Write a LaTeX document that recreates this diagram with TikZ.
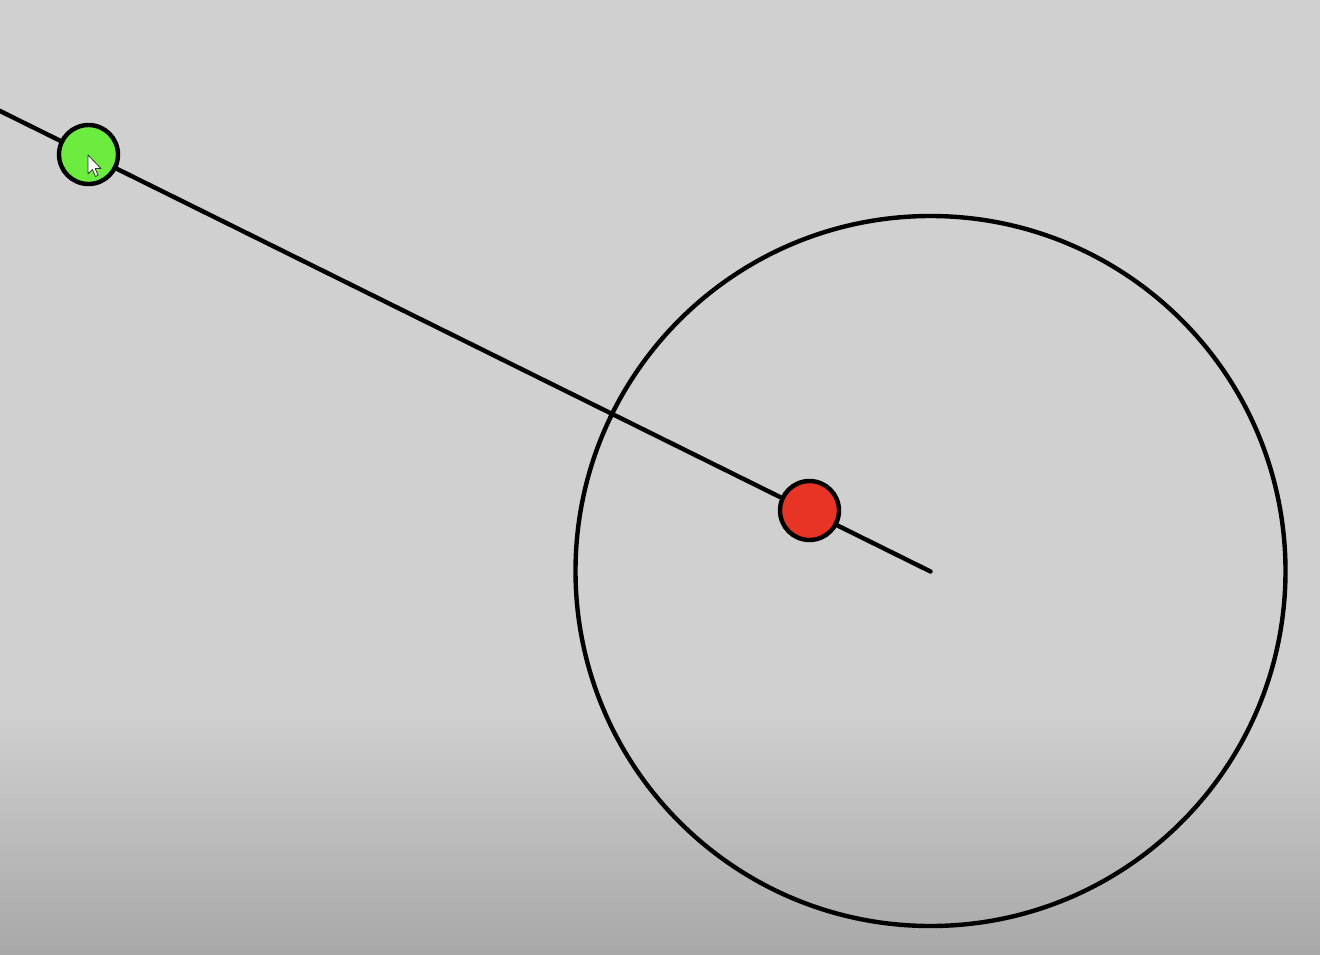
\documentclass[tikz,border=0pt]{standalone}
\definecolor{bgtop}{RGB}{208,208,208}
\definecolor{bgbot}{RGB}{168,168,168}
\definecolor{ballgreen}{RGB}{108,236,62}
\definecolor{ballred}{RGB}{232,52,36}
\tikzset{
  stroke/.style={draw=black, line width=4.4pt},
  ball/.style={stroke, circle, inner sep=0pt, outer sep=0pt, minimum size=59pt},
  bigring/.style={stroke, circle, inner sep=0pt, outer sep=0pt, minimum size=710pt},
}
\begin{document}
\begin{tikzpicture}[x=1pt,y=-1pt]
\useasboundingbox (0,0) rectangle (1320,954);
\fill[bgtop] (0,0) rectangle (1320,954);
\shade[top color=bgtop, bottom color=bgbot] (0,710) rectangle (1320,954);
\node[bigring] (ring) at (930.5,571) {};
\coordinate (start) at (-10,106);
\coordinate (end) at (930.5,571.5);
\draw[stroke, line cap=round] (start) -- (end);
\node[ball, fill=ballgreen] (green) at (88.5,154.5) {};
\node[ball, fill=ballred] (red) at (809.5,510.5) {};
\draw[fill=white, draw=black!80, line width=0.8pt, line join=round, shift={(88,155)}, scale=1.1]
  (0,0) -- (0,17) -- (4,13.2) -- (6.8,19.5) -- (9.2,18.5) -- (6.5,12.3) -- (11.8,12.3) -- cycle;
\end{tikzpicture}
\end{document}
